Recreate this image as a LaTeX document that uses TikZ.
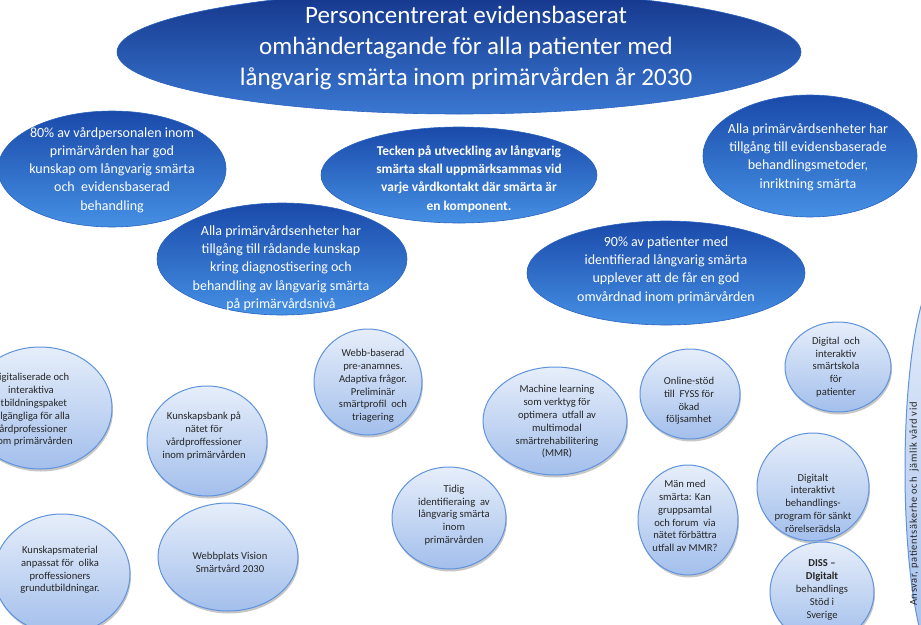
\documentclass[tikz,border=0pt]{standalone}
\usepackage{fontspec}
\setmainfont{Carlito}
\usetikzlibrary{shapes.geometric,shadows}
\definecolor{dkA}{HTML}{1A4AAA}
\definecolor{dkB}{HTML}{4590E4}
\definecolor{ttA}{HTML}{14358A}
\definecolor{ttB}{HTML}{3A78D2}
\definecolor{dkLine}{HTML}{2A62BE}
\definecolor{ltA}{HTML}{E6EEFA}
\definecolor{ltB}{HTML}{A3BFEC}
\definecolor{ltLine}{HTML}{5F93DC}
\definecolor{txtDark}{HTML}{262626}
\begin{document}
\begin{tikzpicture}[x=1pt,y=-1pt,
  darkell/.style={ellipse, inner sep=0pt, draw=dkLine, line width=0.6pt,
    top color=dkA, bottom color=dkB},
  lightell/.style={ellipse, inner sep=0pt, draw=ltLine, line width=1pt,
    top color=ltA, bottom color=ltB,
    drop shadow={shadow xshift=1pt, shadow yshift=-2.5pt, opacity=0.22, fill=black}},
  titletxt/.style={align=center, text=white, font=\fontsize{25}{31}\selectfont, inner sep=0pt},
  darktxt/.style={align=center, text=white, font=\fontsize{14}{18.2}\selectfont, inner sep=0pt},
  lighttxt/.style={align=center, text=txtDark, font=\fontsize{10.6}{12.8}\selectfont, inner sep=0pt}
]
\useasboundingbox (0,0) rectangle (921,624);
\clip (0,0) rectangle (921,624);
\fill[white] (0,0) rectangle (921,624);

% title ellipse
\node[darkell, minimum width=684pt, minimum height=124pt, top color=ttA, bottom color=ttB] (top) at (459,52) {};
\node[titletxt] (toptxt) at (466,48) {Personcentrerat evidensbaserat\\omhändertagande för alla patienter med\\långvarig smärta inom primärvården år 2030};

% dark ellipses
\node[darkell, minimum width=228pt, minimum height=116pt] (d1) at (112,169) {};
\node[darktxt] (d1t) at (112,170) {80\% av vårdpersonalen inom\\primärvården har god\\kunskap om långvarig smärta\\och\ \ evidensbaserad\\behandling};

\node[darkell, minimum width=276pt, minimum height=96pt] (d2) at (459,175) {};
\node[darktxt, font=\bfseries\fontsize{13.4}{18.2}\selectfont] (d2t) at (469,179) {Tecken på utveckling av långvarig\\smärta skall uppmärksammas vid\\varje vårdkontakt där smärta är\\en komponent.};

\node[darkell, minimum width=214pt, minimum height=122pt] (d3) at (810,156) {};
\node[darktxt] (d3t) at (808,157) {Alla primärvårdsenheter har\\tillgång till evidensbaserade\\behandlingsmetoder,\\inriktning smärta};

\node[darkell, minimum width=250pt, minimum height=112pt] (d4) at (282,259) {};
\node[darktxt] (d4t) at (281,268) {Alla primärvårdsenheter har\\tillgång till rådande kunskap\\kring diagnostisering och\\behandling av långvarig smärta\\på primärvårdsnivå};

\node[darkell, minimum width=278pt, minimum height=104pt] (d5) at (666,273) {};
\node[darktxt] (d5t) at (666,270) {90\% av patienter med\\identifierad långvarig smärta\\upplever att de får en god\\omvårdnad inom primärvården};

% light ellipses
\node[lightell, minimum width=144pt, minimum height=122pt] (a) at (40,408) {};
\node[lighttxt] (at) at (31,410) {Digitaliserade och\\interaktiva\\utbildningspaket\\tillgängliga för alla\\vårdprofessioner\\inom primärvården};

\node[lightell, minimum width=120pt, minimum height=110pt] (b) at (207,441) {};
\node[lighttxt] (bt) at (204,436) {Kunskapsbank på\\nätet för\\vårdproffessioner\\inom primärvården};

\node[lightell, minimum width=108pt, minimum height=106pt] (c) at (368,382) {};
\node[lighttxt] (ct) at (373,386) {Webb-baserad\\pre-anamnes.\\Adaptiva frågor.\\Preliminär\\smärtprofil\ \ och\\triagering};

\node[lightell, minimum width=144pt, minimum height=108pt] (dd) at (555,421) {};
\node[lighttxt] (ddt) at (557,422) {Machine learning\\som verktyg för\\optimera\ \ utfall av\\multimodal\\smärtrehabilitering\\(MMR)};

\node[lightell, minimum width=100pt, minimum height=90pt] (e) at (690,394) {};
\node[lighttxt] (et) at (689,401) {Online-stöd\\till\ \ FYSS för\\ökad\\följsamhet};

\node[lightell, minimum width=106pt, minimum height=90pt] (f) at (838,367) {};
\node[lighttxt] (ft) at (836,367) {Digital\ \ och\\interaktiv\\smärtskola\\för\\patienter};

\node[lightell, minimum width=112pt, minimum height=108pt] (g) at (813,487) {};
\node[lighttxt] (gt) at (813,503) {Digitalt\\interaktivt\\behandlings-\\program för sänkt\\rörelserädsla};

\node[lightell, minimum width=100pt, minimum height=110pt] (h) at (688,520) {};
\node[lighttxt] (ht) at (685,516) {Män med\\smärta: Kan\\gruppsamtal\\och forum\ \ via\\nätet förbättra\\utfall av MMR?};

\node[lightell, minimum width=114pt, minimum height=102pt] (i) at (449,518) {};
\node[lighttxt] (it) at (454,515) {Tidig\\identifieraing\ \ av\\långvarig smärta\\inom\\primärvården};

\node[lightell, minimum width=140pt, minimum height=108pt] (j) at (228,557) {};
\node[lighttxt] (jt) at (230,562) {Webbplats Vision\\Smärtvård 2030};

\node[lightell, minimum width=136pt, minimum height=120pt] (k) at (62,574) {};
\node[lighttxt] (kt) at (60,570) {Kunskapsmaterial\\anpassat för\ \ olika\\proffessioners\\grundutbildningar.};

\node[lightell, minimum width=104pt, minimum height=100pt] (l) at (822,592) {};
\node[lighttxt] (lt) at (822,590) {\textbf{DISS –}\\\textbf{DIgitalt}\\behandlings\\Stöd i\\Sverige};

\node[lightell, minimum width=70pt, minimum height=390pt] (m) at (940,470) {};
\node[lighttxt, rotate=90, font=\fontsize{10.5}{12}\selectfont\addfontfeature{LetterSpace=6}] (mt) at (914,504) {Ansvar, patientsäkerhe och\ \ jämlik vård vid};
\end{tikzpicture}
\end{document}
